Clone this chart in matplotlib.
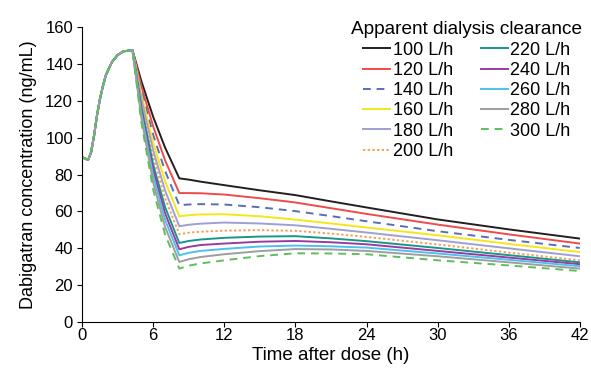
import matplotlib
matplotlib.use("Agg")
import matplotlib.pyplot as plt

plt.rcParams["font.family"] = ["Liberation Sans", "DejaVu Sans"]

# time points (h)
time_pre = [0, 0.5, 0.75, 1, 1.25, 1.5, 1.75, 2, 2.5, 3, 3.5, 4.25]
time_post = [5, 6, 7, 8.2, 9, 10, 12, 15, 18, 21, 24, 30, 36, 42]

# common curve before dialysis
conc_pre = [89.5, 88, 92, 101, 112, 121, 128, 134, 141, 145, 147, 147.5]

labels = ["100 L/h", "120 L/h", "140 L/h", "160 L/h", "180 L/h", "200 L/h",
          "220 L/h", "240 L/h", "260 L/h", "280 L/h", "300 L/h"]

# concentrations from t = 5 h onward, one list per clearance
c100 = [130.7, 111.3, 94.7, 78.0, 77.3, 76.2, 74.3, 71.5, 68.9, 65.5, 62.2, 55.7, 50.3, 45.3]
c120 = [128.0, 106.1, 87.8, 70.0, 70.0, 69.9, 69.2, 67.2, 64.9, 61.8, 58.7, 52.9, 47.6, 42.6]
c140 = [125.6, 101.5, 82.0, 63.4, 63.8, 64.0, 63.8, 62.3, 60.2, 57.5, 54.7, 49.3, 44.6, 40.2]
c160 = [123.3, 97.1, 76.5, 57.4, 58.0, 58.4, 58.5, 57.4, 55.6, 53.5, 51.3, 47.1, 42.4, 38.0]
c180 = [121.0, 92.9, 71.4, 52.0, 52.8, 53.4, 54.0, 53.5, 52.5, 50.6, 48.6, 44.4, 40.0, 35.7]
c200 = [119.0, 89.4, 67.2, 47.7, 48.5, 49.0, 49.6, 49.9, 49.5, 48.0, 46.2, 42.1, 37.7, 33.5]
c220 = [116.6, 85.3, 62.4, 42.9, 44.0, 44.8, 45.7, 46.4, 46.6, 45.4, 43.9, 40.2, 36.3, 32.4]
c240 = [114.8, 82.3, 59.0, 39.5, 40.8, 41.8, 42.6, 43.6, 44.0, 43.3, 42.2, 38.6, 35.0, 31.4]
c260 = [113.0, 79.2, 55.5, 36.2, 37.6, 38.6, 39.7, 41.0, 41.5, 41.1, 40.4, 37.2, 33.8, 30.3]
c280 = [110.7, 75.6, 51.6, 32.6, 34.1, 35.3, 36.8, 38.5, 39.6, 39.4, 38.6, 35.7, 32.4, 29.0]
c300 = [108.3, 71.7, 47.5, 29.0, 30.6, 31.8, 33.5, 35.8, 37.3, 37.2, 36.8, 33.5, 30.7, 27.7]

series = [c100, c120, c140, c160, c180, c200, c220, c240, c260, c280, c300]

colors = ["#231f20", "#ee4b4b", "#5a6eb8", "#f4e61a", "#9f9fd2", "#f7a055",
          "#17968c", "#9c3a9e", "#4dc0ee", "#9e9e9e", "#5dbf5d"]
styles = ["-", "-", (0, (4, 3)), "-", "-", (0, (1.2, 1.2)),
          "-", "-", "-", "-", (0, (4, 3))]

fig = plt.figure(figsize=(5.91, 3.74), dpi=100)
ax = fig.add_axes([0.139, 0.139, 0.842, 0.788])

t_all = time_pre + time_post
for vals, lab, col, ls in zip(series, labels, colors, styles):
    ax.plot(t_all, conc_pre + vals, color=col, linestyle=ls, lw=1.4, label=lab)

ax.set_xlim(0, 42)
ax.set_ylim(0, 160)
ax.set_xticks([0, 6, 12, 18, 24, 30, 36, 42])
ax.set_yticks(range(0, 161, 20))
ax.spines["top"].set_visible(False)
ax.spines["right"].set_visible(False)
ax.tick_params(labelsize=12, length=3.5, width=0.8)
ax.tick_params(axis="y", pad=3)
ax.tick_params(axis="x", pad=1)
ax.set_xlabel("Time after dose (h)", fontsize=13.5, labelpad=3)
ax.set_ylabel("Dabigatran concentration (ng/mL)", fontsize=13, labelpad=6)

leg = ax.legend(ncol=2, title="Apparent dialysis clearance", fontsize=13,
                title_fontsize=13.7, frameon=False, loc="upper right",
                bbox_to_anchor=(1.005, 1.02), handlelength=1.5,
                handletextpad=0.12, columnspacing=1.55, labelspacing=0.18,
                borderpad=0.0, borderaxespad=0.0)

fig.savefig("out.png", dpi=100)
